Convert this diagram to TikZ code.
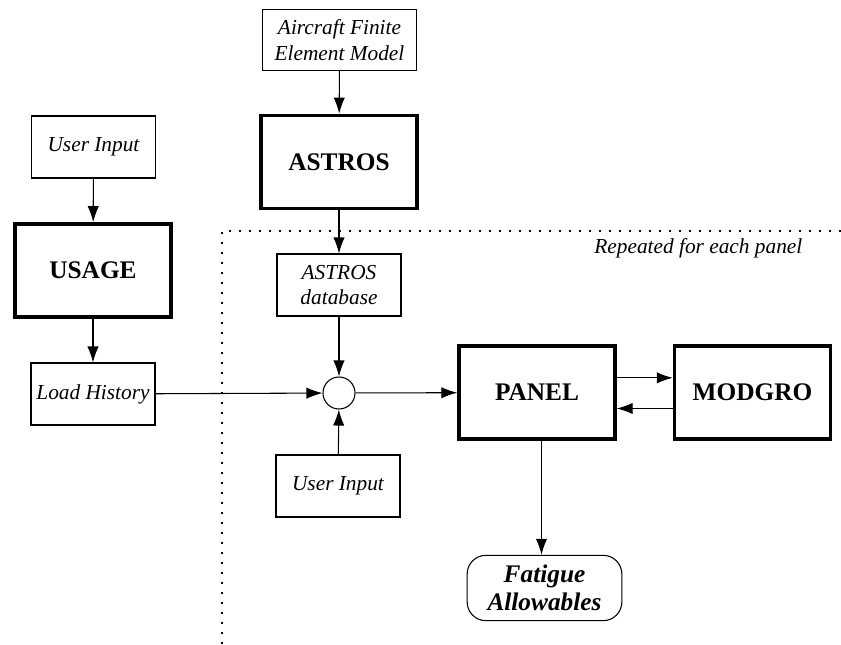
\documentclass[tikz,border=0pt]{standalone}
\usepackage{fontspec}
\setmainfont{Liberation Serif}
\usetikzlibrary{arrows.meta, positioning}

\begin{document}
\begin{tikzpicture}[x=0.75pt, y=-0.75pt,
    inbox/.style={draw, line width=0.8pt, align=center, inner sep=2pt,
      minimum width=93pt, minimum height=46.5pt,
      font=\fontsize{16}{19}\selectfont\itshape},
    prog/.style={draw, line width=2.6pt, minimum width=117pt, minimum height=70pt,
      font=\fontsize{19}{21}\selectfont\bfseries},
    flow/.style={line width=0.8pt, -{Latex[length=12pt, width=8.5pt]}}]
    \useasboundingbox (0,0) rectangle (841,645);

    % Boxes
    \node[inbox, minimum width=116pt, minimum height=46pt] (fem) at (339.5,40) {Aircraft Finite\\Element Model};
    \node[prog] (astros) at (339,162) {ASTROS};
    \node[inbox] (userin) at (93.5,147) {User Input};
    \node[prog] (usage) at (93,270.5) {USAGE};
    \node[inbox] (loadhist) at (93,394) {Load History};
    \node[inbox] (db) at (339,285) {ASTROS\\database};
    \node[draw, circle, line width=0.8pt, minimum size=24pt, inner sep=0pt] (sum) at (339,393) {};
    \node[inbox] (userin2) at (338,486) {User Input};
    \node[prog] (panel) at (537,392.5) {PANEL};
    \node[prog] (modgro) at (752.5,392.5) {MODGRO};
    \node[draw, line width=0.8pt, rounded corners=14pt, align=center,
      minimum width=116pt, minimum height=49pt,
      font=\fontsize{19}{21}\selectfont\bfseries\itshape] (fatigue) at (544.5,588) {Fatigue\\Allowables};

    % Region repeated per panel
    \coordinate (rep) at (222,231);
    \draw[line width=1.8pt, dash pattern=on 1.6pt off 5.9pt] (841,231) -- (rep) -- (222,645);
    \node[anchor=east, font=\fontsize{16}{19}\selectfont\itshape] (replabel) at (807,248) {Repeated for each panel};

    % Connectors
    \draw[flow] (fem) -- (astros);
    \draw[flow] (astros) -- (db);
    \draw[flow] (userin) -- (usage);
    \draw[flow] (usage) -- (loadhist);
    \draw[flow] (loadhist) -- (sum);
    \draw[flow] (db) -- (sum);
    \draw[flow] (userin2) -- (sum);
    \draw[flow] (sum) -- (panel);
    \draw[flow] ([yshift=11pt]panel.east) -- ([yshift=11pt]modgro.west);
    \draw[flow] ([yshift=-12pt]modgro.west) -- ([yshift=-12pt]panel.east);
    \draw[flow] (panel.south -| fatigue.north) ++(-3,0) coordinate (pdown) -- (pdown |- fatigue.north);
  \end{tikzpicture}
\end{document}
